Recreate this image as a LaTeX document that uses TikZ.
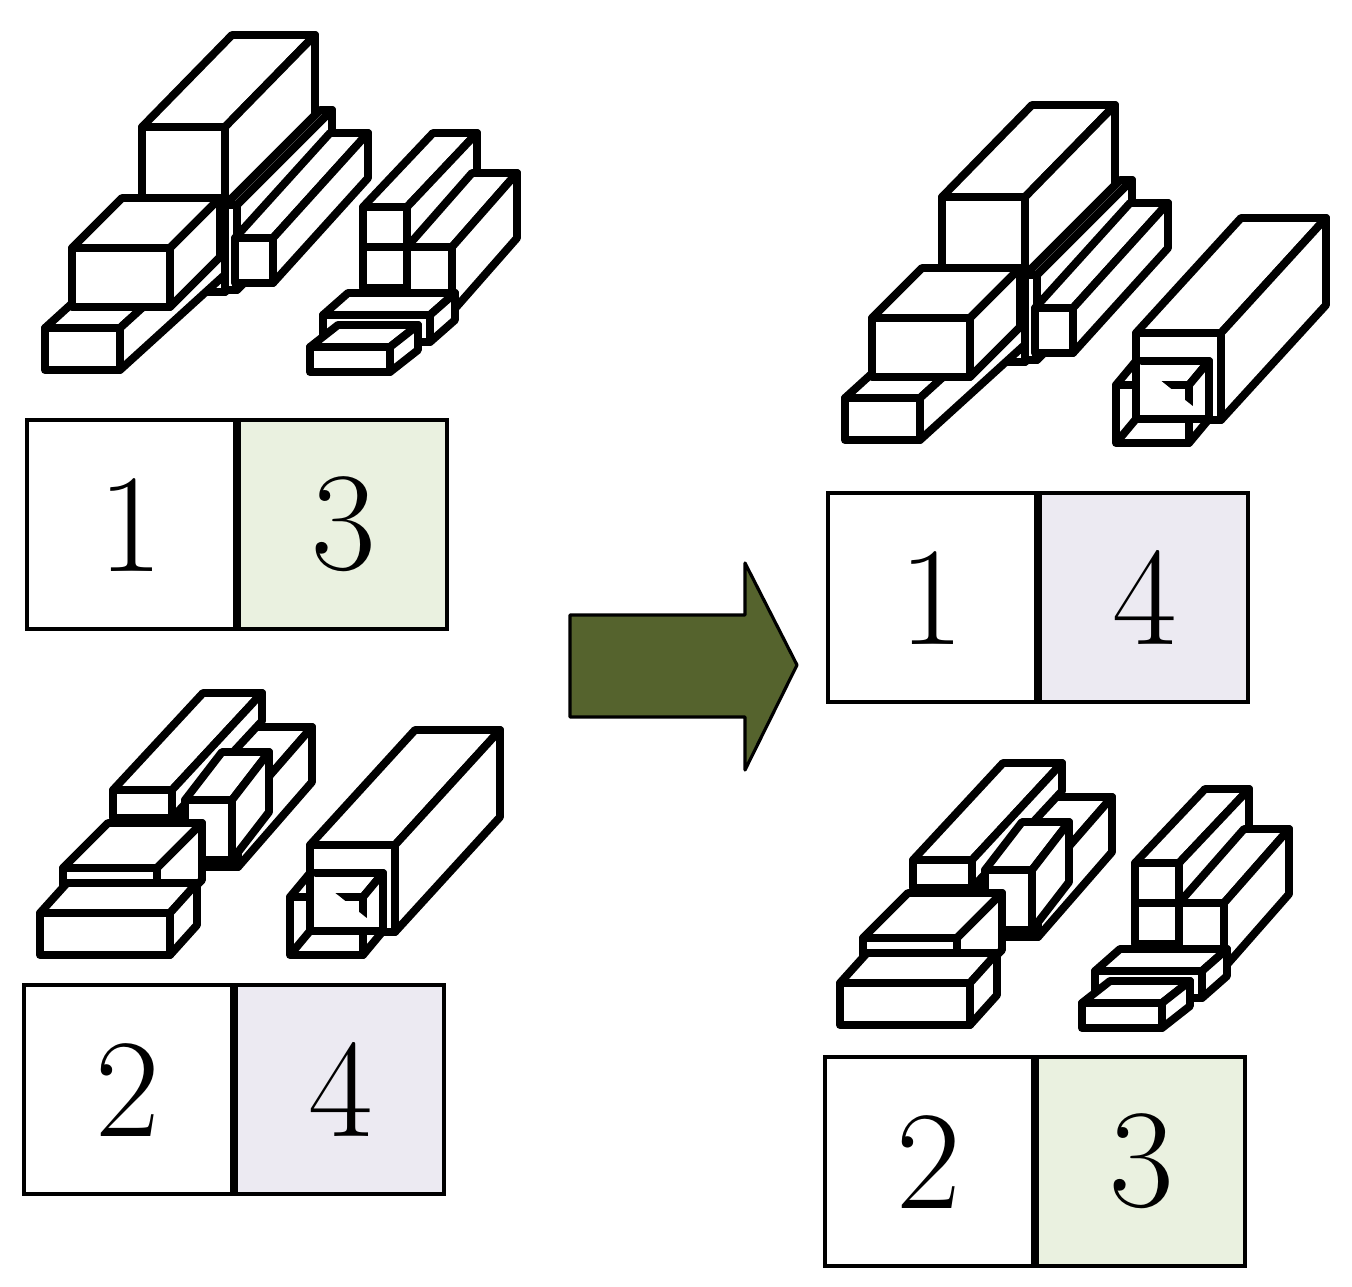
\documentclass[tikz,border=0pt]{standalone}
\begin{document}
\begin{tikzpicture}[x=0.02cm,y=-0.02cm,
  box/.style={fill=white,draw=black,line width=4.5pt,line join=round},
  cell/.style={draw=black,line width=2.4pt,minimum width=208*0.02cm,minimum height=209*0.02cm,inner sep=0pt,anchor=north west,font=\fontsize{80}{80}\selectfont}]
\definecolor{lgreen}{RGB}{234,241,224}
\definecolor{lviolet}{RGB}{236,234,242}
\definecolor{agreen}{RGB}{85,99,45}
\useasboundingbox (0,0) rectangle (1352,1287);
\newcommand\cub[6]{%
  \filldraw[box] (#1,#2) rectangle ++(#3,#4);
  \filldraw[box] (#1,#2) -- ++(#5,-#6) -- ++(#3,0) -- ++(-#5,#6) -- cycle;
  \filldraw[box] (#1+#3,#2) -- ++(#5,-#6) -- ++(0,#4) -- ++(-#5,#6) -- cycle;}
\newcommand\grpA{%
  \cub{142}{127}{83}{165}{90}{92}
  \cub{45}{328}{75}{42}{110}{100}
  \cub{225}{205}{12}{85}{95}{95}
  \cub{235}{238}{38}{45}{95}{105}
  \cub{72}{248}{98}{59}{50}{50}}
\newcommand\grpB{%
  \cub{363}{207}{44}{81}{70}{74}
  \draw[box] (363,247) -- (407,247);
  \cub{407}{247}{45}{65}{65}{74}
  \cub{323}{315}{107}{27}{25}{22}
  \cub{310}{347}{80}{25}{28}{22}}
\newcommand\grpC{%
  \cub{180}{812}{58}{55}{74}{85}
  \cub{113}{790}{59}{28}{90}{97}
  \cub{185}{800}{47}{60}{37}{48}
  \cub{63}{868}{94}{57}{45}{45}
  \cub{40}{913}{130}{42}{27}{30}}
\newcommand\grpD{%
  \cub{310}{845}{85}{87}{105}{115}
  \cub{290}{897}{73}{58}{20}{24}
  \draw[box] (310,873) -- (310,931) -- (383,931) (290,955) -- (310,931);}
% top-left
\grpA \grpB
% bottom-left
\grpC \grpD
% top-right
\begin{scope}[shift={(800,70)}]\grpA\end{scope}
\begin{scope}[shift={(826,-512)}]\grpD\end{scope}
% bottom-right
\begin{scope}[shift={(800,70)}]\grpC\end{scope}
\begin{scope}[shift={(772,656)}]\grpB\end{scope}
% tables
\node[cell] (t1a) at (25,418) {1};
\node[cell,fill=lgreen] (t1b) at (t1a.north east) {3};
\node[cell] (t2a) at (22,983) {2};
\node[cell,fill=lviolet] (t2b) at (t2a.north east) {4};
\node[cell] (t3a) at (826,491) {1};
\node[cell,fill=lviolet] (t3b) at (t3a.north east) {4};
\node[cell] (t4a) at (823,1055) {2};
\node[cell,fill=lgreen] (t4b) at (t4a.north east) {3};
% arrow
\filldraw[fill=agreen,draw=black,line width=1.8pt,line join=round]
  (570,615) -- (745,615) -- (745,563) -- (797,665) -- (745,770) -- (745,717) -- (570,717) -- cycle;
\end{tikzpicture}
\end{document}
